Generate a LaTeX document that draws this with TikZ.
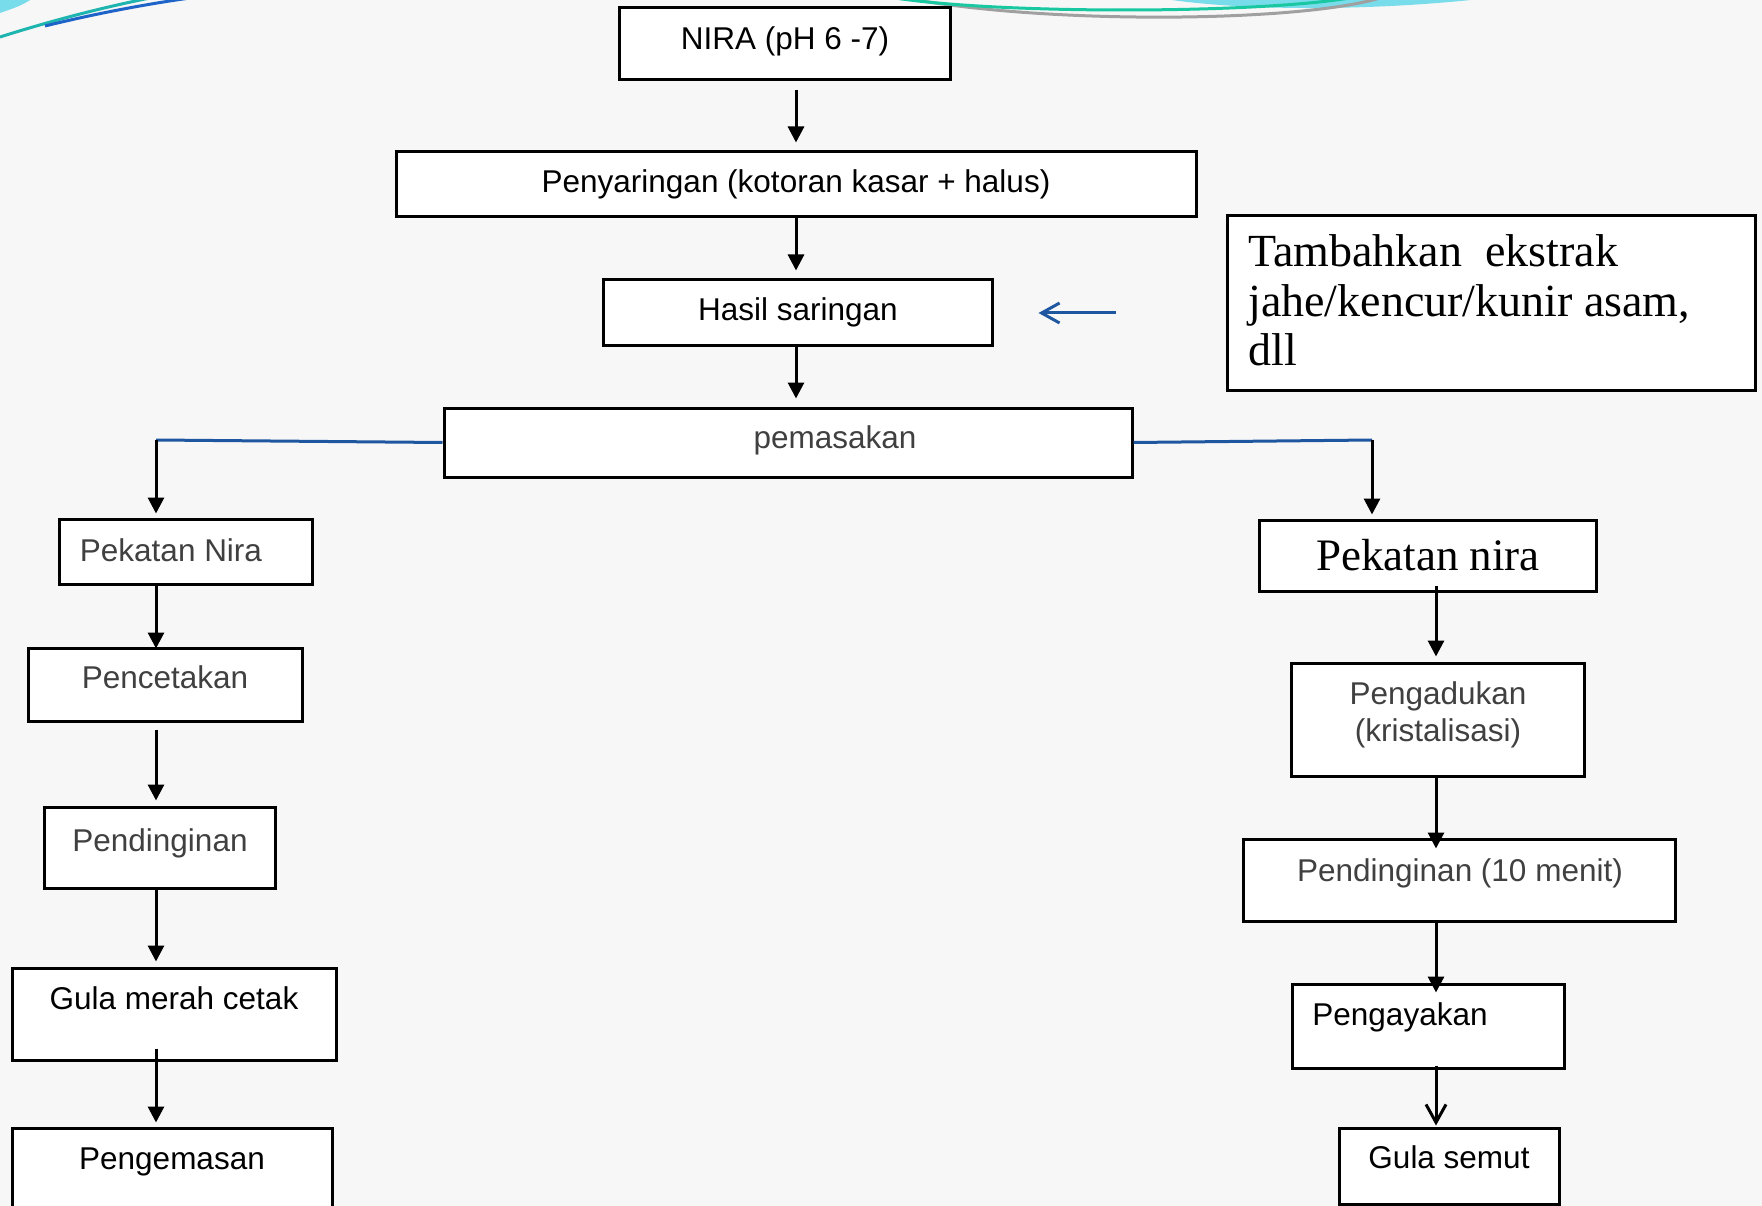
\documentclass[tikz,border=0pt]{standalone}
\usepackage{fontspec}
\setmainfont{Liberation Sans}
\newfontfamily\seriffont{Liberation Serif}
\usetikzlibrary{arrows.meta}
\definecolor{bgcol}{RGB}{247,247,247}
\definecolor{txtgray}{RGB}{64,64,64}
\definecolor{linkblue}{RGB}{31,86,160}
\definecolor{swcyan}{RGB}{120,220,235}
\definecolor{swteal}{RGB}{30,180,175}
\definecolor{swblue}{RGB}{30,100,200}
\definecolor{swgreen}{RGB}{25,200,160}
\definecolor{swgray}{RGB}{160,160,160}
\tikzset{
	stepbox/.style={draw=black, fill=white, line width=3pt, inner sep=0pt},
	steptext/.style={anchor=base, inner sep=0pt, font=\fontsize{31.5}{37}\selectfont},
	flow/.style={line width=3pt, -{Triangle[length=16pt,width=16pt]}},
	openflow/.style={line width=3pt, -{Straight Barb[length=18pt,width=20pt]}},
	link/.style={draw=linkblue, line width=3pt},
}
\begin{document}
\begin{tikzpicture}[x=1pt,y=-1pt]
	\useasboundingbox (0,0) rectangle (1762,1206);
	\fill[bgcol] (0,0) rectangle (1762,1206);
	
	% slide swooshes
	\fill[swcyan] (0,-1) -- (32,-1) .. controls (20,6) .. (0,13) -- cycle;
	\draw[swteal, line width=3pt] (0,37) .. controls (60,18) and (110,6) .. (150,-2);
	\draw[swblue, line width=3pt] (45,26) .. controls (90,15) and (140,5) .. (190,-2);
	\fill[swcyan] (1165,-1) .. controls (1250,12) and (1380,10) .. (1480,-1) -- cycle;
	\draw[swgray, line width=3pt] (905,-2) .. controls (1050,25) and (1300,22) .. (1380,-2);
	\draw[swgreen, line width=3pt] (895,-2) .. controls (1000,14) and (1250,14) .. (1350,-2);
	
	% main line
	\node[stepbox, minimum width=331pt, minimum height=72pt] (nira)   at (784.5,44)   {};
	\node[stepbox, minimum width=800pt, minimum height=65pt] (saring) at (796,184.5)  {};
	\node[stepbox, minimum width=389pt, minimum height=66pt] (hasil)  at (797.5,313)  {};
	\node[stepbox, minimum width=688pt, minimum height=69pt] (masak)  at (788,442.5)  {};
	\node[stepbox, minimum width=528pt, minimum height=174pt] (tambah) at (1491,303)  {};
	
	\node[steptext] (nira-t)   at (785,50)  {NIRA (pH 6 -7)};
	\node[steptext] (saring-t) at (796,193) {Penyaringan (kotoran kasar + halus)};
	\node[steptext] (hasil-t)  at (798,321) {Hasil saringan};
	\node[steptext, text=txtgray] (masak-t) at (835,448) {pemasakan};
	\node[anchor=base west, inner sep=0pt, align=left, font=\seriffont\fontsize{46}{50}\selectfont]
		(tambah-t) at (1248,366) {Tambahkan\ \ ekstrak\\jahe/kencur/kunir asam,\\dll};
	
	% gula merah cetak
	\node[stepbox, minimum width=253pt, minimum height=65pt]  (pekatL)  at (185.5,551.5) {};
	\node[stepbox, minimum width=274pt, minimum height=73pt]  (cetak)   at (165,684.5)   {};
	\node[stepbox, minimum width=231pt, minimum height=81pt]  (dinginL) at (159.5,847.5) {};
	\node[stepbox, minimum width=324pt, minimum height=92pt]  (gulaM)   at (174,1014)    {};
	\node[stepbox, minimum width=320pt, minimum height=132pt] (kemas)   at (172,1194)    {};
	
	\node[steptext, text=txtgray] (pekatL-t)  at (171,561) {Pekatan Nira};
	\node[steptext, text=txtgray] (cetak-t)   at (165,688) {Pencetakan};
	\node[steptext, text=txtgray] (dinginL-t) at (160,851) {Pendinginan};
	\node[steptext] (gulaM-t) at (174,1009) {Gula merah cetak};
	\node[steptext] (kemas-t) at (172,1169) {Pengemasan};
	
	% gula semut
	\node[stepbox, minimum width=337pt, minimum height=71pt]  (pekatR)  at (1427.5,555.5) {};
	\node[stepbox, minimum width=293pt, minimum height=113pt] (aduk)    at (1437.5,719.5) {};
	\node[stepbox, minimum width=432pt, minimum height=82pt]  (dinginR) at (1459,880)     {};
	\node[stepbox, minimum width=272pt, minimum height=84pt]  (ayak)    at (1428,1026)    {};
	\node[stepbox, minimum width=220pt, minimum height=76pt]  (semut)   at (1449,1166)    {};
	
	\node[anchor=base, inner sep=0pt, font=\seriffont\fontsize{45}{50}\selectfont] (pekatR-t) at (1428,570) {Pekatan nira};
	\node[steptext, text=txtgray, align=center] (aduk-t) at (1438,741) {Pengadukan\\(kristalisasi)};
	\node[steptext, text=txtgray] (dinginR-t) at (1460,881) {Pendinginan (10 menit)};
	\node[steptext] (ayak-t)  at (1400,1025) {Pengayakan};
	\node[steptext] (semut-t) at (1449,1168) {Gula semut};
	
	% connectors
	\coordinate (splitL) at (156,440);
	\coordinate (splitR) at (1372,440);
	\coordinate (spineR) at (1436,600);
	
	\draw[flow, shorten <=9pt, shorten >=8pt] (saring.north |- nira.south) -- (saring.north);
	\draw[flow, shorten >=8pt] (saring.south) -- (saring.south |- hasil.north);
	\draw[flow, shorten >=8pt] (hasil.south -| saring.south) -- (masak.north -| saring.south);
	\draw[link, -{Straight Barb[length=18pt,width=20pt]}, shorten <=110pt, shorten >=45pt]
		(hasil.east -| tambah.west) -- (hasil.east);
	
	\draw[link] (masak.west) -- (splitL);
	\draw[link] (masak.east) -- (splitR);
	\draw[flow, shorten >=4pt] (splitL) -- (splitL |- pekatL.north);
	\draw[flow, shorten >=4pt] (splitR) -- (splitR |- pekatR.north);
	
	\draw[flow, shorten >=-2pt] (pekatL.south -| splitL) -- (cetak.north -| splitL);
	\draw[flow, shorten <=7pt, shorten >=5pt] (cetak.south -| splitL) -- (dinginL.north -| splitL);
	\draw[flow, shorten >=5pt] (dinginL.south -| splitL) -- (gulaM.north -| splitL);
	\draw[flow, shorten <=-13pt, shorten >=4pt] (gulaM.south -| splitL) -- (kemas.north -| splitL);
	
	\draw[flow, shorten <=-7pt, shorten >=5pt] (pekatR.south -| spineR) -- (aduk.north -| spineR);
	\draw[flow, shorten >=-11pt] (aduk.south -| spineR) -- (dinginR.north -| spineR);
	\draw[flow, shorten >=-10pt] (dinginR.south -| spineR) -- (ayak.north -| spineR);
	\draw[openflow, shorten <=-4pt, shorten >=1pt] (ayak.south -| spineR) -- (semut.north -| spineR);
\end{tikzpicture}
\end{document}
